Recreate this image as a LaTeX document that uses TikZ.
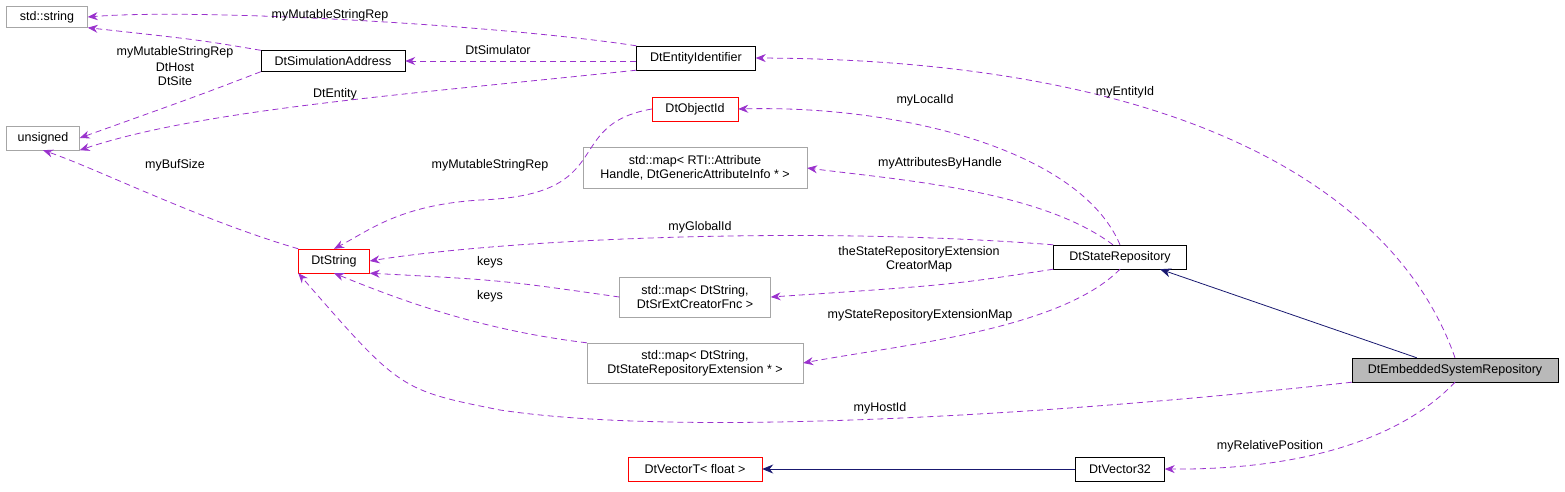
\documentclass[tikz,border=0pt]{standalone}
\usepackage{fontspec}
\setmainfont{Liberation Sans}
\usetikzlibrary{arrows.meta,calc}
\definecolor{dox}{HTML}{9A32CD}
\definecolor{navy}{HTML}{191970}
\begin{document}
\begin{tikzpicture}[x=1pt,y=-1pt,
  box/.style={draw=black,fill=white,inner sep=0pt,minimum height=24pt,font=\fontsize{12.5}{14}\selectfont,align=center},
  gbox/.style={box,draw=gray!70},
  rbox/.style={box,draw=red},
  use/.style={draw=dox,line width=0.8pt,dash pattern=on 6pt off 4pt,-{Stealth[length=10pt,width=8pt,fill=dox]}},
  inh/.style={draw=navy,line width=0.8pt,-{Stealth[length=11pt,width=9pt,fill=navy]}},
  lab/.style={font=\fontsize{12.5}{14}\selectfont,align=center,inner sep=1pt}]
\useasboundingbox (0,0) rectangle (1565,491);
\node[gbox,minimum width=81pt,minimum height=21pt] (str) at (47,17) {std::string};
\node[box,minimum width=144pt,minimum height=21pt] (sa) at (333,61) {DtSimulationAddress};
\node[box,minimum width=119pt] (ei) at (696,58) {DtEntityIdentifier};
\node[gbox,minimum width=73pt] (uns) at (43,138) {unsigned};
\node[rbox,minimum width=86pt] (oid) at (695,109) {DtObjectId};
\node[gbox,minimum width=224pt,minimum height=41pt] (m1) at (695,168) {std::map< RTI::Attribute\\Handle, DtGenericAttributeInfo * >};
\node[rbox,minimum width=71pt] (ds) at (334,261) {DtString};
\node[box,minimum width=133pt] (sr) at (1120,257) {DtStateRepository};
\node[gbox,minimum width=151pt,minimum height=40pt] (m2) at (695,297) {std::map< DtString,\\DtSrExtCreatorFnc >};
\node[gbox,minimum width=216pt,minimum height=40pt] (m3) at (695,363) {std::map< DtString,\\DtStateRepositoryExtension * >};
\node[box,fill=gray!55,minimum width=206pt] (es) at (1455,370) {DtEmbeddedSystemRepository};
\node[rbox,minimum width=134pt] (vt) at (695,469) {DtVectorT< float >};
\node[box,minimum width=89pt] (v32) at (1120,469) {DtVector32};

\draw[use] (ei.north west) .. controls (500,25) and (200,8) .. (str.east);
\draw[use] (sa.north west) .. controls (200,40) .. (str.south east);
\draw[use] (ei.west |- sa.east) -- (sa.east);
\draw[use] (sa.south west) .. controls (200,95) .. (uns.east);
\draw[use] (ei.south west) .. controls (400,95) and (200,110) .. (uns.south east);
\draw[use] (ds.north west) .. controls (200,220) and (100,170) .. (uns.south);
\draw[use] (oid.west) .. controls (560,125) and (620,195) .. (480,200) .. controls (400,205) and (370,230) .. (ds.north);
\draw[use] (sr.north) .. controls (1080,150) and (900,105) .. (oid.east);
\draw[use] (sr.120) .. controls (1040,190) and (900,180) .. (m1.east);
\draw[use] (sr.north west) .. controls (800,225) and (500,240) .. (ds.east);
\draw[use] (m2.west) .. controls (500,280) .. (ds.south east);
\draw[use] (m3.north west) .. controls (480,330) and (400,300) .. (ds.south);
\draw[use] (sr.south west) .. controls (950,285) .. (m2.east);
\draw[use] (sr.south) .. controls (1060,330) and (900,345) .. (m3.east);
\draw[use] (es.north) .. controls (1400,200) and (1200,60) .. (ei.east);
\draw[use] (es.south west) .. controls (1100,410) and (700,440) .. (500,410) .. controls (400,390) .. (ds.south west);
\draw[use] (es.south) .. controls (1400,440) and (1300,470) .. (v32.east);
\draw[inh] ($(es.north west)+(65,0)$) -- ($(sr.south)+(40,0)$);
\draw[inh] (v32.west) -- (vt.east);

\node[lab] at (330,15) {myMutableStringRep};
\node[lab] at (175,52) {myMutableStringRep};
\node[lab] at (498,50) {DtSimulator};
\node[lab] at (175,74) {DtHost\\DtSite};
\node[lab] at (335,94) {DtEntity};
\node[lab] at (175,165) {myBufSize};
\node[lab] at (490,165) {myMutableStringRep};
\node[lab] at (925,100) {myLocalId};
\node[lab] at (940,163) {myAttributesByHandle};
\node[lab] at (700,227) {myGlobalId};
\node[lab] at (490,262) {keys};
\node[lab] at (490,296) {keys};
\node[lab] at (919,259) {theStateRepositoryExtension\\CreatorMap};
\node[lab] at (920,315) {myStateRepositoryExtensionMap};
\node[lab] at (1125,92) {myEntityId};
\node[lab] at (880,408) {myHostId};
\node[lab] at (1270,446) {myRelativePosition};
\end{tikzpicture}
\end{document}
